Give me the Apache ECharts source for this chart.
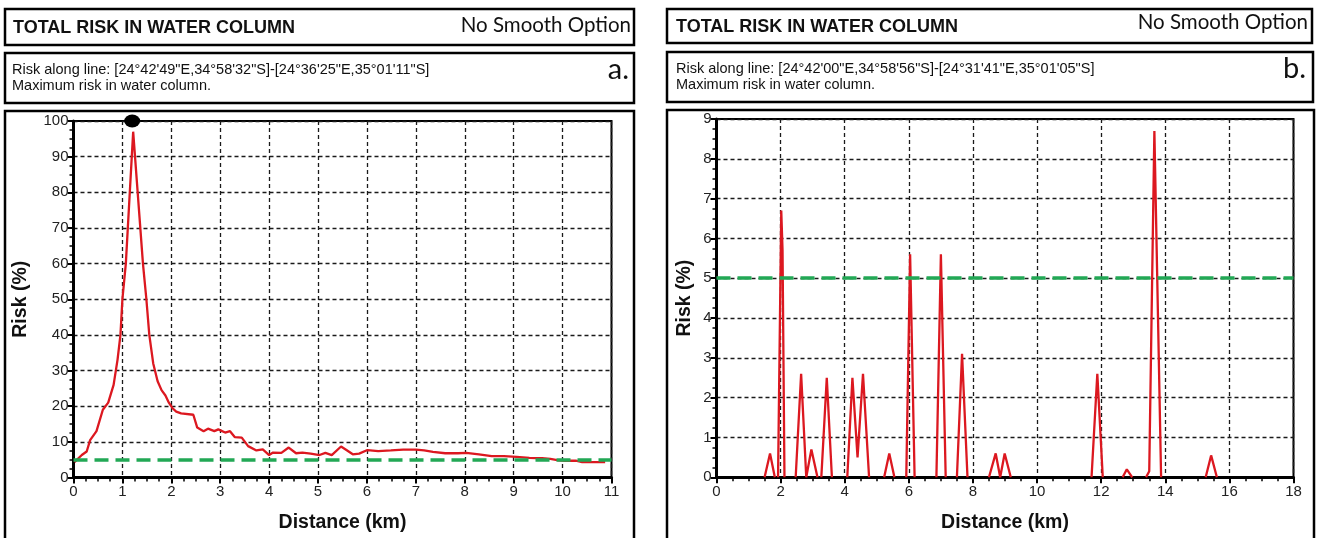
<!DOCTYPE html>
<html><head><meta charset="utf-8">
<script src="https://cdn.jsdelivr.net/npm/echarts@6/dist/echarts.min.js"></script>
<style>html,body{margin:0;padding:0;background:#fff}#c{width:1317px;height:538px}</style>
</head><body><div id="c"></div>
<script>
// ---- Data ----
const titleText = 'TOTAL RISK IN WATER COLUMN';
const optionText = 'No Smooth Option';
const subtitleA = "Risk along line: [24°42'49\"E,34°58'32\"S]-[24°36'25\"E,35°01'11\"S]";
const subtitleB = "Risk along line: [24°42'00\"E,34°58'56\"S]-[24°31'41\"E,35°01'05\"S]";
const subtitle2 = 'Maximum risk in water column.';
const panelLabels = ['a.', 'b.'];
const xNameText = 'Distance (km)';
const yNameText = 'Risk (%)';
const thresholdRisk = 5;

// Chart a
const distanceA = [0.02, 0.17, 0.27, 0.34, 0.47, 0.6, 0.71, 0.82, 0.9, 0.96, 1.0, 1.07, 1.22, 1.42, 1.49, 1.55, 1.63, 1.72, 1.8, 1.88, 1.95, 2.02, 2.1, 2.2, 2.45, 2.53, 2.66, 2.75, 2.88, 2.96, 3.1, 3.2, 3.3, 3.44, 3.57, 3.74, 3.87, 4.0, 4.08, 4.25, 4.4, 4.55, 4.68, 4.85, 5.03, 5.15, 5.28, 5.47, 5.58, 5.71, 5.84, 6.01, 6.23, 6.49, 6.74, 7.0, 7.17, 7.35, 7.6, 7.86, 8.03, 8.29, 8.55, 8.8, 9.06, 9.32, 9.58, 9.75, 9.92, 10.05, 10.27, 10.4, 10.87];
const riskA = [4.3, 6.3, 7.3, 10.5, 13, 19, 21, 26, 33, 40, 50, 60, 97, 60, 50, 40, 32, 27, 24.5, 23, 21, 19.5, 18.5, 18, 17.6, 14, 13, 13.7, 13, 13.5, 12.6, 13, 11.3, 11.2, 8.8, 7.6, 7.9, 6.3, 7, 6.9, 8.4, 6.8, 7, 6.7, 6.3, 6.9, 6.3, 8.7, 7.7, 6.5, 6.7, 7.7, 7.4, 7.6, 7.8, 7.8, 7.6, 7.2, 6.8, 6.8, 6.9, 6.5, 6.0, 6.0, 5.8, 5.5, 5.4, 5.2, 4.8, 4.7, 4.7, 4.3, 4.3];
const maxMarkerA = [1.2, 100];
const xTicksA = {min: 0, max: 11, interval: 1};
const yTicksA = {min: 0, max: 100, interval: 10};

// Chart b (null separates spikes)
const distanceB = [1.5, 1.67, 1.82, null, 1.92, 2.02, 2.06, 2.12, null, 2.47, 2.64, 2.8, 2.96, 3.15, null, 3.27, 3.44, 3.6, null, 4.08, 4.24, 4.4, 4.57, 4.76, null, 5.23, 5.39, 5.55, null, 5.92, 6.04, 6.18, null, 6.86, 7.0, 7.15, null, 7.5, 7.66, 7.83, null, 8.5, 8.71, 8.85, 8.99, 9.18, null, 11.7, 11.88, 12.05, null, 12.67, 12.8, 12.97, null, 13.4, 13.5, 13.66, 13.87, null, 15.26, 15.43, 15.61];
const riskB = [0, 0.6, 0, null, 0, 6.7, 5.7, 0, null, 0, 2.6, 0, 0.7, 0, null, 0, 2.5, 0, null, 0, 2.5, 0.5, 2.6, 0, null, 0, 0.6, 0, null, 0, 5.6, 0, null, 0, 5.6, 0, null, 0, 3.1, 0, null, 0, 0.6, 0, 0.6, 0, null, 0, 2.6, 0, null, 0, 0.2, 0, null, 0, 0.15, 8.7, 0, null, 0, 0.55, 0];
const xTicksB = {min: 0, max: 18, interval: 2};
const yTicksB = {min: 0, max: 9, interval: 1};

// ---- Build chart ----
const FONT = '"Liberation Sans", Arial, sans-serif';
const CAL = 'Lato, "Open Sans", sans-serif';
const pairs = (xs, ys) => xs.map((x, i) => (x === null || ys[i] === null) ? ['-', '-'] : [x, ys[i]]);

function axis(t, name, nameGap, isX) {
  return {
    type: 'value', min: t.min, max: t.max, interval: t.interval,
    gridIndex: 0,
    name: name, nameLocation: 'middle', nameGap: nameGap,
    nameTextStyle: {fontFamily: FONT, fontWeight: 'bold', fontSize: 19.5, color: '#111'},
    axisLine: {show: true, onZero: false, lineStyle: {color: '#000', width: 3}},
    axisTick: {show: true, length: 6, lineStyle: {color: '#000', width: 2}},
    minorTick: {show: true, splitNumber: 4, length: 4, lineStyle: {color: '#000', width: 1.5}},
    axisLabel: {fontFamily: FONT, fontSize: 15, color: '#222', margin: isX ? 7 : 5},
    splitLine: {show: true, lineStyle: {color: '#1a1a1a', width: 1.3, type: [4, 3]}},
    minorSplitLine: {show: false}
  };
}

const xA = axis(xTicksA, xNameText, 35, true); xA.gridIndex = 0;
const yA = axis(yTicksA, yNameText, 43, false); yA.gridIndex = 0;
const xB = axis(xTicksB, xNameText, 35, true); xB.gridIndex = 1;
const yB = axis(yTicksB, yNameText, 22, false); yB.gridIndex = 1;

const threshold = {
  silent: true, symbol: 'none', animation: false,
  label: {show: false},
  lineStyle: {color: '#22a855', width: 3.5, type: [14, 7]},
  data: [{yAxis: thresholdRisk}]
};
const redLine = {color: '#dc1820', width: 2.3};

const boxStyle = {fill: 'none', stroke: '#000', lineWidth: 2.5};
function rect(x, y, w, h) { return {type: 'rect', shape: {x, y, width: w, height: h}, style: boxStyle, z: 0}; }
function txt(text, x, y, font, align) {
  return {type: 'text', z: 10, style: {text, x, y, font, textAlign: align || 'left', textVerticalAlign: 'middle', verticalAlign: 'middle', fill: '#111'}};
}

const option = {
  animation: false,
  backgroundColor: '#fff',
  grid: [
    {left: 73.5, right: 705.5, top: 121, bottom: 60.5, show: true, borderColor: '#000', borderWidth: 2, backgroundColor: 'transparent'},
    {left: 716.5, right: 23.5, top: 119, bottom: 60.7, show: true, borderColor: '#000', borderWidth: 2, backgroundColor: 'transparent'}
  ],
  xAxis: [xA, xB],
  yAxis: [yA, yB],
  series: [
    {type: 'line', xAxisIndex: 0, yAxisIndex: 0, data: pairs(distanceA, riskA), symbol: 'none', lineStyle: redLine, z: 3, markLine: threshold},
    {type: 'scatter', xAxisIndex: 0, yAxisIndex: 0, data: [maxMarkerA], symbol: 'circle', symbolSize: [16, 13], itemStyle: {color: '#000', opacity: 1}, clip: false, z: 5},
    {type: 'line', xAxisIndex: 1, yAxisIndex: 1, data: pairs(distanceB, riskB), symbol: 'none', connectNulls: false, lineStyle: redLine, z: 3, markLine: threshold}
  ],
  graphic: [
    rect(5, 9, 629, 36), rect(5, 53, 629, 50), rect(5, 111, 629, 440),
    rect(667, 9, 645, 34), rect(667, 52, 646, 50), rect(667, 110, 647, 440),
    txt(titleText, 13, 28, 'bold 18px ' + FONT),
    txt(optionText, 631, 25, '20.5px ' + CAL, 'right'),
    txt(subtitleA, 12, 70, '14.5px ' + FONT),
    txt(subtitle2, 12, 86, '14.5px ' + FONT),
    txt(panelLabels[0], 629, 70, '29px ' + CAL, 'right'),
    txt(titleText, 676, 27, 'bold 18px ' + FONT),
    txt(optionText, 1308, 22, '20.5px ' + CAL, 'right'),
    txt(subtitleB, 676, 69, '14.5px ' + FONT),
    txt(subtitle2, 676, 85, '14.5px ' + FONT),
    txt(panelLabels[1], 1306, 69, '29px ' + CAL, 'right')
  ]
};

const chart = echarts.init(document.getElementById('c'), null, {renderer: 'canvas'});
chart.setOption(option);
</script>
</body></html>
